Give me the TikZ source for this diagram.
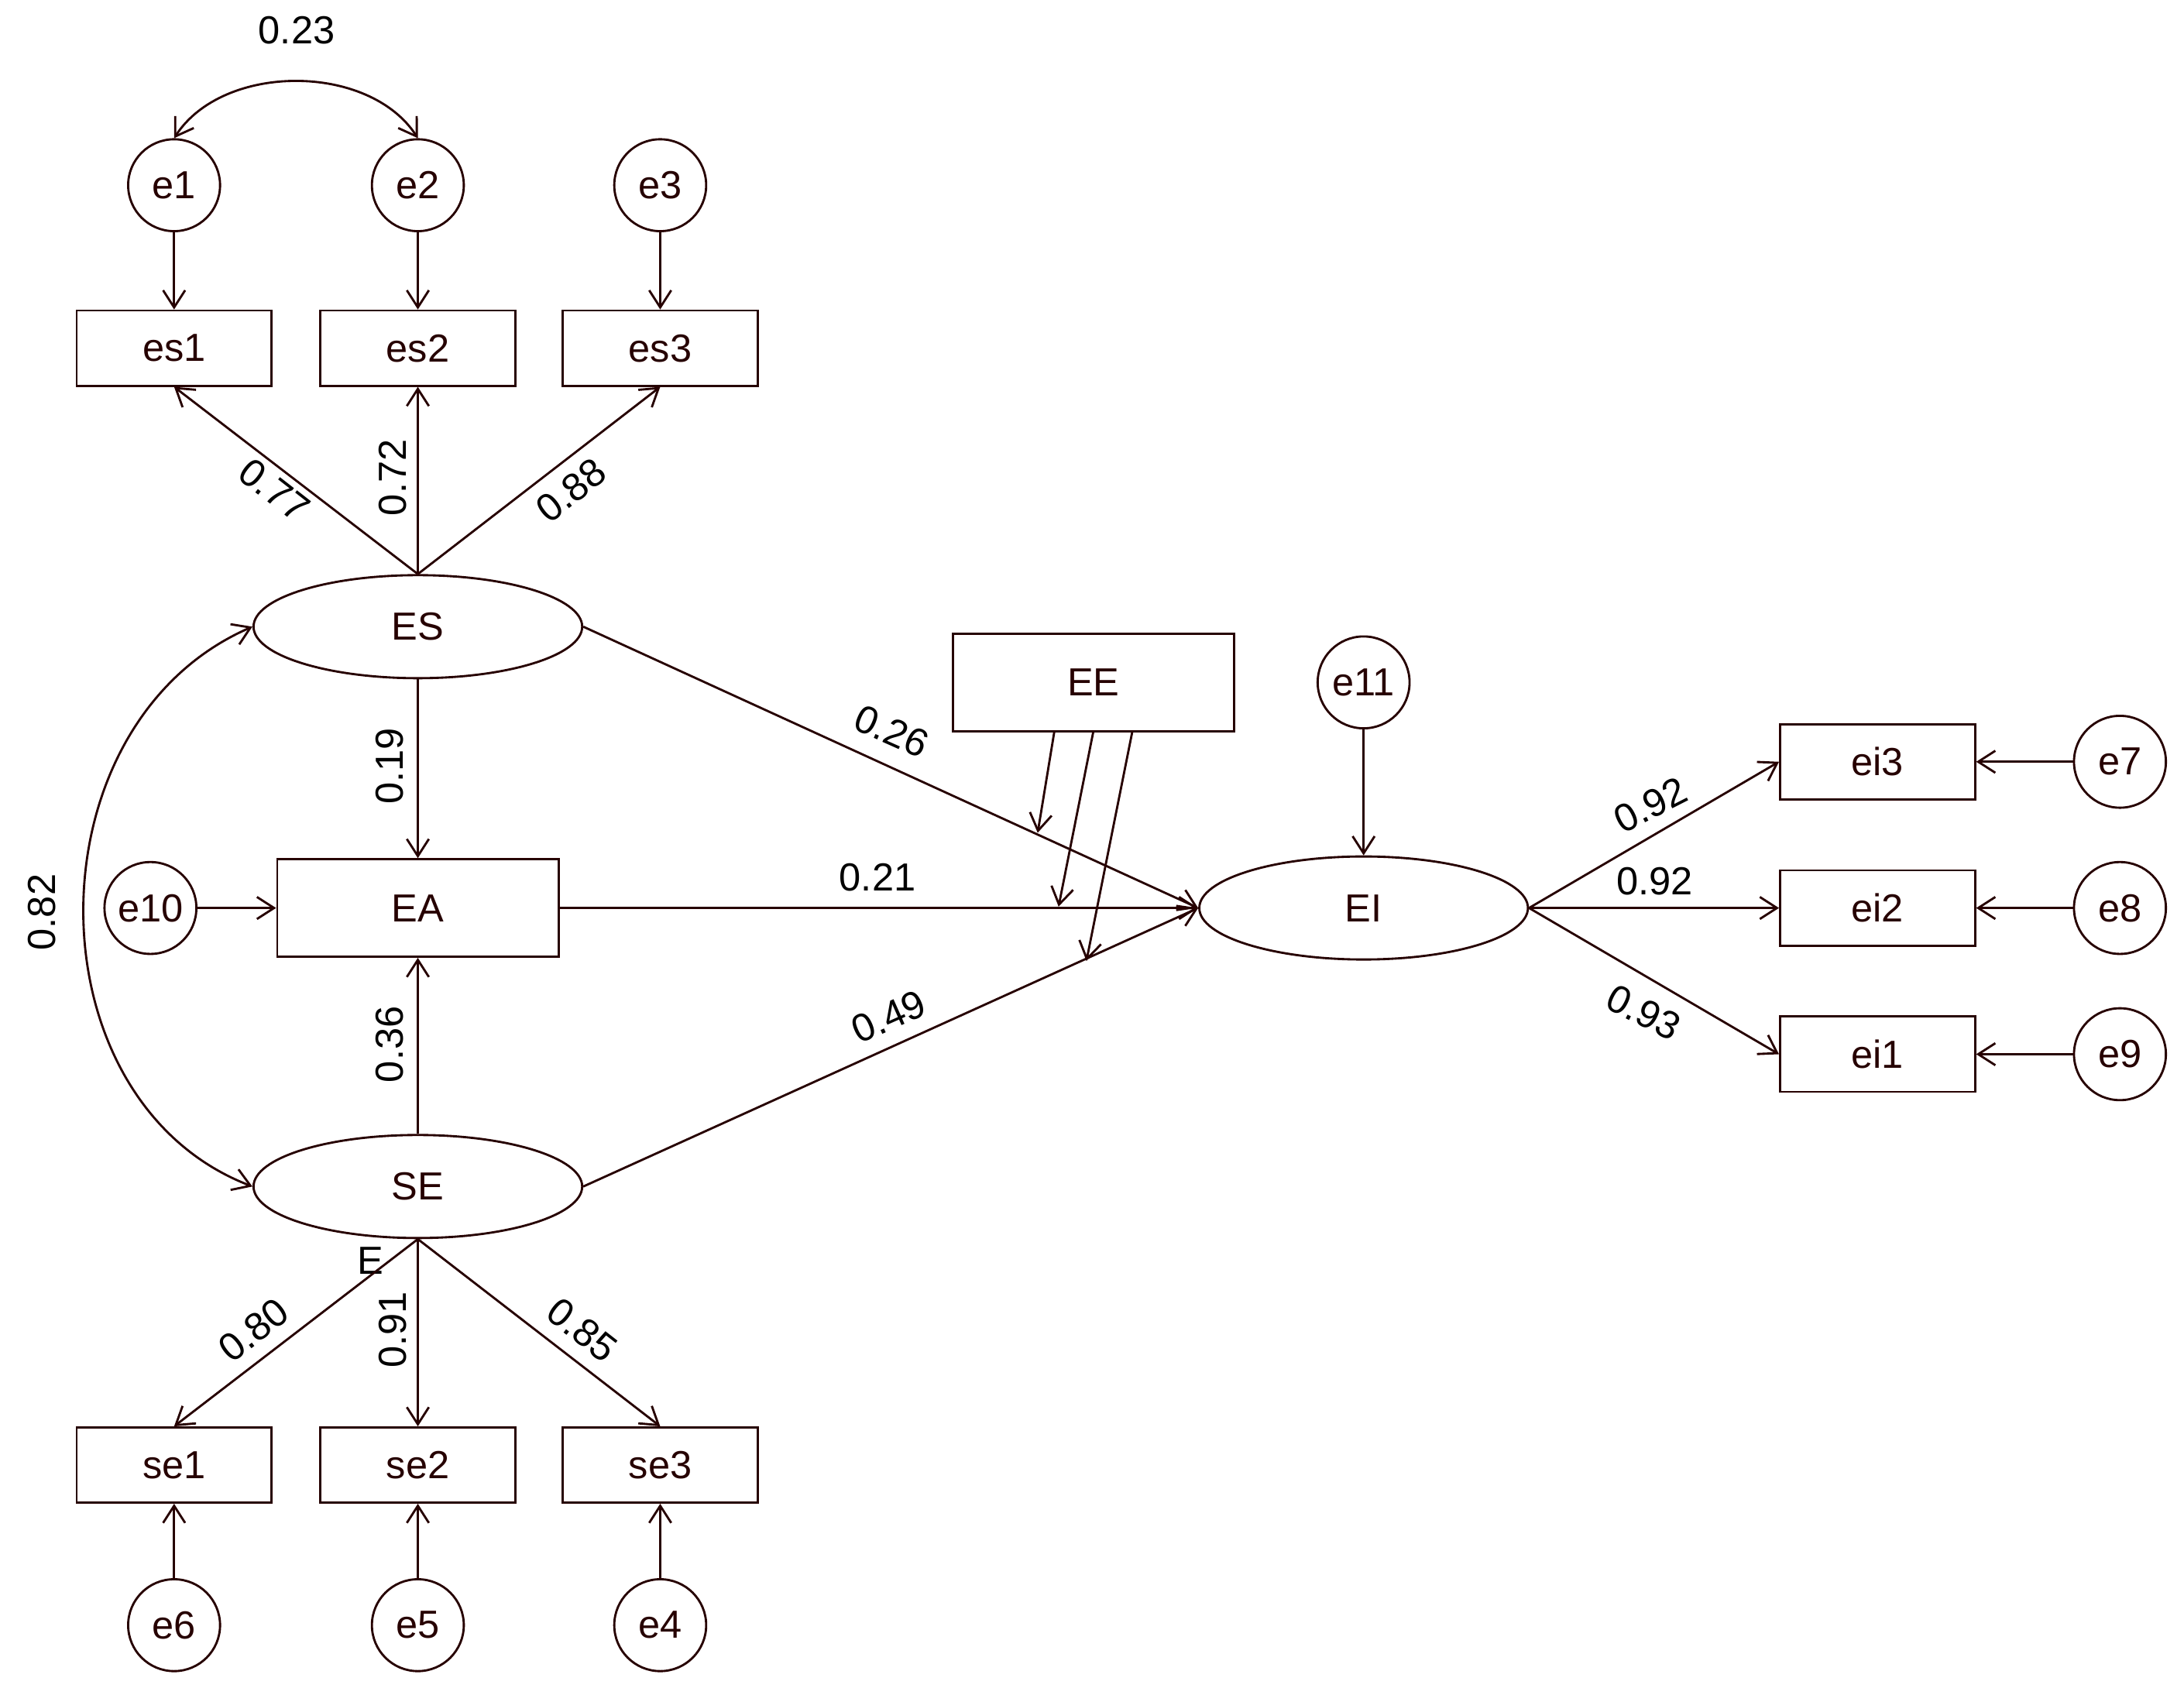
\documentclass[tikz,border=0pt]{standalone}
\usepackage{fontspec}
\setmainfont{Liberation Sans}
\usetikzlibrary{shapes.geometric,arrows.meta}
\begin{document}
\begin{tikzpicture}[x=0.02cm,y=-0.02cm,
  every node/.style={font=\fontsize{16}{18}\selectfont},
  lc/.style={draw,line width=0.9pt,color=black!85!red},
  er/.style={lc,circle,minimum size=1.32cm,inner sep=0pt},
  ob/.style={lc,rectangle,minimum width=2.8cm,minimum height=1.08cm,inner sep=0pt},
  big/.style={lc,rectangle,minimum width=4.04cm,minimum height=1.4cm,inner sep=0pt},
  lat/.style={lc,ellipse,minimum width=4.72cm,minimum height=1.48cm,inner sep=0pt},
  ar/.style={line width=0.9pt,color=black!85!red,-{Straight Barb[length=7pt,width=9pt]}},
  dar/.style={line width=0.9pt,color=black!85!red,{Straight Barb[length=7pt,width=9pt]}-{Straight Barb[length=7pt,width=9pt]}},
  lb/.style={inner sep=1pt}]
\useasboundingbox (0,0) rectangle (1568,1217);
\node[er] (e1) at (125,133) {e1};
\node[er] (e2) at (300,133) {e2};
\node[er] (e3) at (474,133) {e3};
\node[ob] (es1) at (125,250) {es1};
\node[ob] (es2) at (300,250) {es2};
\node[ob] (es3) at (474,250) {es3};
\node[lat] (ES) at (300,450) {ES};
\node[big] (EA) at (300,652) {EA};
\node[er] (e10) at (108,652) {e10};
\node[lat] (SE) at (300,852) {SE};
\node[ob] (se1) at (125,1052) {se1};
\node[ob] (se2) at (300,1052) {se2};
\node[ob] (se3) at (474,1052) {se3};
\node[er] (e6) at (125,1167) {e6};
\node[er] (e5) at (300,1167) {e5};
\node[er] (e4) at (474,1167) {e4};
\node[big] (EE) at (785,490) {EE};
\node[er] (e11) at (979,490) {e11};
\node[lat] (EI) at (979,652) {EI};
\node[ob] (ei3) at (1348,547) {ei3};
\node[ob] (ei2) at (1348,652) {ei2};
\node[ob] (ei1) at (1348,757) {ei1};
\node[er] (e7) at (1522,547) {e7};
\node[er] (e8) at (1522,652) {e8};
\node[er] (e9) at (1522,757) {e9};
\node at (266,905) {E};

\foreach \a/\b in {e1/es1,e2/es2,e3/es3} \draw[ar] (\a) -- (\b);
\foreach \a/\b in {e6/se1,e5/se2,e4/se3} \draw[ar] (\a) -- (\b);
\foreach \a/\b in {e7/ei3,e8/ei2,e9/ei1} \draw[ar] (\a) -- (\b);
\draw[ar] (e10) -- (EA);
\draw[ar] (e11) -- (EI);
\draw[ar] (ES.north) -- (es1.south);
\draw[ar] (ES.north) -- (es2.south);
\draw[ar] (ES.north) -- (es3.south);
\draw[ar] (SE.south) -- (se1.north);
\draw[ar] (SE.south) -- (se2.north);
\draw[ar] (SE.south) -- (se3.north);
\draw[ar] (ES) -- (EA);
\draw[ar] (SE) -- (EA);
\draw[ar] (ES.east) -- (EI.west);
\draw[ar] (EA) -- (EI.west);
\draw[ar] (SE.east) -- (EI.west);
\draw[ar] (EI.east) -- (ei3.west);
\draw[ar] (EI.east) -- (ei2.west);
\draw[ar] (EI.east) -- (ei1.west);
\coordinate (m1) at (745,598);
\coordinate (m2) at (760,651);
\coordinate (m3) at (780,690);
\draw[ar] (757,525) -- (m1);
\draw[ar] (785,525) -- (m2);
\draw[ar] (813,525) -- (m3);
\draw[dar] (e1.north) .. controls (160,45) and (265,45) .. (e2.north);
\draw[dar] (ES.west) .. controls (20,520) and (20,790) .. (SE.west);

\node[lb] at (213,22) {0.23};
\node[lb] at (30,655) [rotate=90] {0.82};
\node[lb,rotate=-38] at (197,352) {0.77};
\node[lb,rotate=90] at (282,343) {0.72};
\node[lb,rotate=38] at (410,352) {0.88};
\node[lb,rotate=90] at (280,550) {0.19};
\node[lb,rotate=90] at (280,750) {0.36};
\node[lb,rotate=-24] at (640,525) {0.26};
\node[lb] at (630,630) {0.21};
\node[lb,rotate=24] at (638,730) {0.49};
\node[lb,rotate=38] at (182,955) {0.80};
\node[lb,rotate=90] at (282,955) {0.91};
\node[lb,rotate=-38] at (418,955) {0.85};
\node[lb,rotate=27] at (1185,578) {0.92};
\node[lb] at (1188,633) {0.92};
\node[lb,rotate=-27] at (1180,727) {0.93};
\end{tikzpicture}
\end{document}
